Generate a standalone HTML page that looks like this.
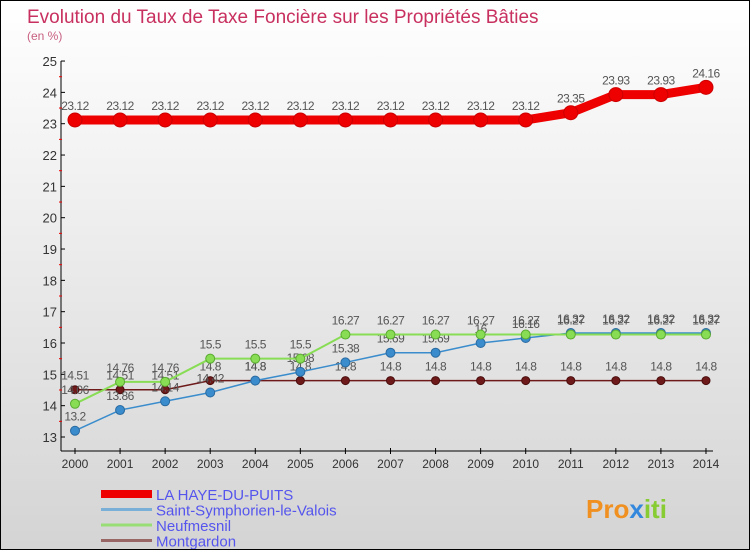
<!DOCTYPE html>
<html><head><meta charset="utf-8"><style>
body{margin:0}
#c{width:748px;height:548px;border:1px solid #000;background:linear-gradient(#fff,#d4d4d4);position:relative;overflow:hidden;font-family:"Liberation Sans",sans-serif}
svg text{font-family:"Liberation Sans",sans-serif}
</style></head><body>
<div id="c">
<svg id="s" width="748" height="548"></svg>
</div>
<script>
const years=[2000,2001,2002,2003,2004,2005,2006,2007,2008,2009,2010,2011,2012,2013,2014];
const yTicks=[13,14,15,16,17,18,19,20,21,22,23,24,25];
const haye=[23.12,23.12,23.12,23.12,23.12,23.12,23.12,23.12,23.12,23.12,23.12,23.35,23.93,23.93,24.16];
const saint=[13.2,13.86,14.14,14.42,14.8,15.08,15.38,15.69,15.69,16,16.16,16.32,16.32,16.32,16.32];
const neuf=[14.06,14.76,14.76,15.5,15.5,15.5,16.27,16.27,16.27,16.27,16.27,16.27,16.27,16.27,16.27];
const mont=[14.51,14.51,14.51,14.8,14.8,14.8,14.8,14.8,14.8,14.8,14.8,14.8,14.8,14.8,14.8];
const NS='http://www.w3.org/2000/svg';
const s=document.getElementById('s');
function X(i){return 74+i*45.07;}
function Y(v){return 436-(v-13)*31.33;}
function el(t,a,txt,p){const e=document.createElementNS(NS,t);for(const k in a)e.setAttribute(k,a[k]);if(txt!==undefined)e.textContent=txt;(p||s).appendChild(e);return e;}
let e;
e=el('text',{x:26,y:22,'font-size':19,fill:'#c8305f'},'Evolution du Taux de Taxe Foncière sur les Propriétés Bâties');


e=el('text',{x:26,y:39,'font-size':12,fill:'#c86080'},'(en %)');


e=el('line',{x1:60,y1:60,x2:60,y2:450,stroke:'#000'});


e=el('line',{x1:60,y1:450,x2:712,y2:450,stroke:'#000'});


yTicks.forEach((v,i)=>{
 el('line',{x1:60,y1:Y(v),x2:64,y2:Y(v),stroke:'#000'});
 if(i<yTicks.length-1)el('line',{x1:58,y1:Y(v+0.5),x2:61,y2:Y(v+0.5),stroke:'#e00'});
 e=el('text',{x:56,y:Y(v)+5,'font-size':13,fill:'#333','text-anchor':'end'},v);
 
 
});
years.forEach((y,i)=>{
 el('line',{x1:X(i),y1:447,x2:X(i),y2:453,stroke:'#000'});
 e=el('text',{x:X(i),y:467,'font-size':12,fill:'#333','text-anchor':'middle'},y);
 
 
});
function series(data,color,stroke,w,r,name){
 const pts=data.map((v,i)=>X(i)+','+Y(v)).join(' ');
 e=el('polyline',{points:pts,fill:'none',stroke:color,'stroke-width':w});
 
 
 data.forEach((v,i)=>{
  e=el('circle',{cx:X(i),cy:Y(v),r:r,fill:color,stroke:stroke});
  
  
  e=el('text',{x:X(i),y:Y(v)-10,'font-size':12,fill:'#555','text-anchor':'middle','letter-spacing':'-0.5'},v);
  
  
 });
}
series(mont,'#6e1a1a','#4a0c0c',1.5,4,'montgardon');
series(saint,'#3a8ccc','#2a6aa0',1.5,4.5,'saint-symphorien');
series(neuf,'#88dd55','#5aaa30',2,4.5,'neufmesnil');
series(haye,'#ee0000','#cc0000',9,7,'la-haye-du-puits');
const leg=[['LA HAYE-DU-PUITS','#ee0000',8],['Saint-Symphorien-le-Valois','#7ab0d8',3],['Neufmesnil','#99dd77',3],['Montgardon','#996666',3]];
leg.forEach((l,i)=>{
 const y=493+i*15.5;
 e=el('line',{x1:100,y1:y,x2:151,y2:y,stroke:l[1],'stroke-width':l[2]});
 
 
 e=el('text',{x:155,y:y+6,'font-size':15,fill:'#5555ee'},l[0]);
 
 
});
e=el('text',{x:585,y:517,'font-size':26,'font-weight':'bold',fill:'#f09020'});


el('tspan',{},'Pro',e);
el('tspan',{fill:'#3388dd'},'x',e);
el('tspan',{fill:'#88cc33'},'iti',e);
</script>
</body></html>
